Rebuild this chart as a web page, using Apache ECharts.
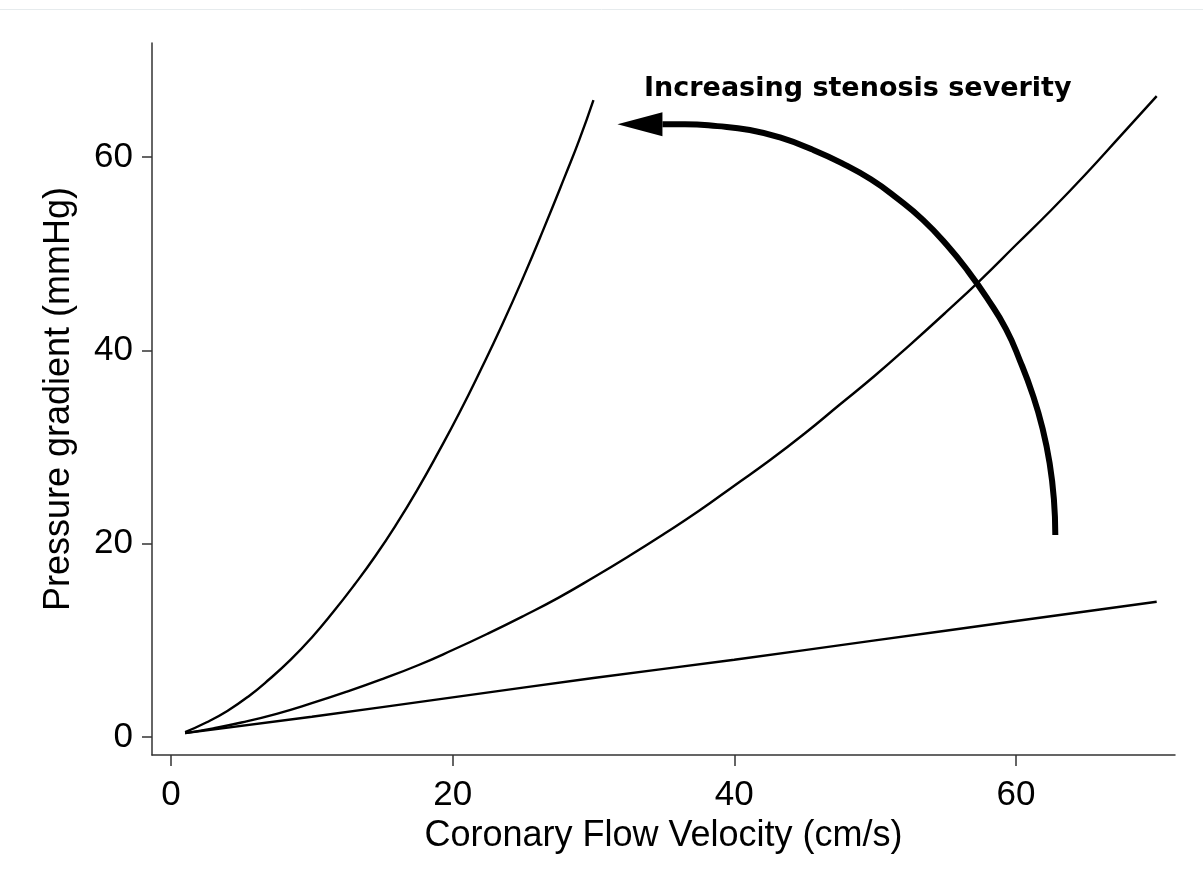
<!DOCTYPE html>
<html>
<head>
<meta charset="utf-8">
<title>Pressure gradient vs coronary flow velocity</title>
<script src="https://cdn.jsdelivr.net/npm/echarts@6/dist/echarts.min.js"></script>
<style>
  html, body { margin: 0; padding: 0; background: #fff; }
  #chart { width: 1203px; height: 879px; }
</style>
</head>
<body>
<div id="chart"></div>
<script>
// ------------------------------
// data
// ------------------------------
var xTicks = [0, 20, 40, 60];
var yTicks = [0, 20, 40, 60];

// severe stenosis (steep curve)
var severeX = [1, 2.5, 4, 5.5, 7, 8.5, 10, 11.5, 13, 14.5, 16, 17.5, 19, 20.5, 22, 23.5, 25, 26.5, 28, 29, 30];
var severeY = [0.5, 1.5, 2.7, 4.2, 6.0, 8.0, 10.3, 12.9, 15.7, 18.7, 22.0, 25.6, 29.5, 33.6, 38.0, 42.6, 47.5, 52.7, 58.1, 61.8, 65.9];

// moderate stenosis (middle curve)
var moderateX = [1, 3, 5, 7.5, 10, 12.5, 15, 17.5, 20, 22.5, 25, 27.5, 30, 32.5, 35, 37.5, 40, 42.5, 45, 47.5, 50, 52.5, 55, 57.5, 60, 62.5, 65, 67.5, 70];
var moderateY = [0.4, 0.9, 1.5, 2.4, 3.5, 4.7, 6.0, 7.4, 9.0, 10.7, 12.5, 14.4, 16.5, 18.7, 21.0, 23.4, 26.0, 28.6, 31.4, 34.4, 37.4, 40.6, 43.9, 47.3, 50.9, 54.5, 58.3, 62.3, 66.3];

// mild stenosis (almost straight)
var mildX = [1, 10, 20, 30, 40, 50, 60, 70];
var mildY = [0.4, 2.1, 4.1, 6.1, 8.0, 10.0, 12.0, 14.0];

// annotation arc, from its lower end up to the arrowhead
var arcX = [62.8, 62.7, 62.4, 61.9, 61.2, 60.3, 59.3, 58.0, 56.6, 55.1, 53.4, 51.6, 49.7, 47.6, 45.5, 43.3, 41.1, 38.8, 36.5, 34.9];
var arcY = [20.9, 24.6, 28.3, 31.9, 35.4, 38.9, 42.2, 45.3, 48.2, 50.9, 53.5, 55.7, 57.7, 59.4, 60.8, 62.0, 62.8, 63.2, 63.4, 63.4];
var arrowHead = [33.3, 63.4];

var annotation = 'Increasing stenosis severity';

function pairs(xs, ys) {
    return xs.map(function (x, i) { return [x, ys[i]]; });
}

var chart = echarts.init(document.getElementById('chart'));

var axisFont = 'Liberation Sans, Arial, sans-serif';

var option = {
    backgroundColor: '#fff',
    animation: false,
    grid: {
        left: 152,
        right: 28,
        top: 43,
        bottom: 124
    },
    xAxis: {
        type: 'value',
        min: -1.35,
        max: 71.3,
        name: 'Coronary Flow Velocity (cm/s)',
        nameLocation: 'middle',
        nameGap: 53,
        nameTextStyle: { fontFamily: axisFont, fontSize: 36, color: '#000' },
        axisLine: { show: true, onZero: false, lineStyle: { color: '#333', width: 1.5 } },
        axisTick: { show: true, length: 11, lineStyle: { color: '#333', width: 1.5 },
            customValues: xTicks },
        axisLabel: { fontFamily: axisFont, fontSize: 35, color: '#000', margin: 23,
            customValues: xTicks },
        splitLine: { show: false }
    },
    yAxis: {
        type: 'value',
        min: -1.86,
        max: 71.8,
        name: 'Pressure gradient (mmHg)',
        nameLocation: 'middle',
        nameGap: 75,
        nameTextStyle: { fontFamily: axisFont, fontSize: 36, color: '#000' },
        axisLine: { show: true, onZero: false, lineStyle: { color: '#333', width: 1.5 } },
        axisTick: { show: true, length: 10, lineStyle: { color: '#333', width: 1.5 },
            customValues: yTicks },
        axisLabel: { fontFamily: axisFont, fontSize: 35, color: '#000', margin: 19,
            customValues: yTicks },
        splitLine: { show: false }
    },
    graphic: [{
        type: 'line',
        shape: { x1: 0, y1: 9.5, x2: 1203, y2: 9.5 },
        style: { stroke: '#e6ebed', lineWidth: 1 }
    }, {
        type: 'text',
        x: 644,
        y: 89,
        style: {
            text: annotation,
            fontFamily: 'DejaVu Sans, Verdana, sans-serif',
            fontWeight: 'bold',
            fontSize: 27,
            fill: '#000',
            verticalAlign: 'middle'
        }
    }],
    series: [{
        type: 'line',
        data: pairs(severeX, severeY),
        smooth: true,
        showSymbol: false,
        lineStyle: { color: '#000', width: 2.4 }
    }, {
        type: 'line',
        data: pairs(moderateX, moderateY),
        smooth: true,
        showSymbol: false,
        lineStyle: { color: '#000', width: 2.4 }
    }, {
        type: 'line',
        data: pairs(mildX, mildY),
        smooth: true,
        showSymbol: false,
        lineStyle: { color: '#000', width: 2.4 }
    }, {
        type: 'line',
        data: pairs(arcX, arcY),
        smooth: 0.5,
        showSymbol: false,
        lineStyle: { color: '#000', width: 6, cap: 'butt' },
        z: 3
    }, {
        type: 'scatter',
        data: [arrowHead],
        symbol: 'triangle',
        symbolSize: [24, 45],
        symbolRotate: 90,
        itemStyle: { color: '#000', opacity: 1 },
        z: 4
    }]
};

chart.setOption(option);
</script>
</body>
</html>
